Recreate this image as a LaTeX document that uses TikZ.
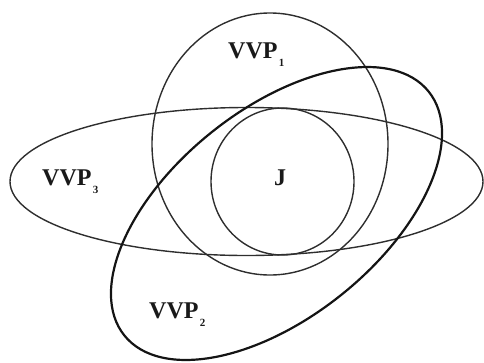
\documentclass[tikz,border=0pt]{standalone}
\usepackage{fontspec}
\setmainfont{Liberation Serif}
\begin{document}
\begin{tikzpicture}[x=1pt,y=-1pt,
  thinline/.style={draw=black!82, line width=1.4pt},
  thickline/.style={draw=black!92, line width=2.2pt},
  lab/.style={font=\fontsize{24}{24}\selectfont\bfseries, text=black!90, inner sep=0pt, anchor=base west},
  sub/.style={font=\fontsize{11}{11}\selectfont\bfseries, text=black!90, inner sep=0pt, anchor=base west}]
\useasboundingbox (0,0) rectangle (484,362);
% VVP1
\draw[thinline] (270,144) ellipse [x radius=118pt, y radius=131pt];
% J
\draw[thinline] (282.5,181.5) ellipse [x radius=71.5pt, y radius=73.5pt];
% VVP3
\draw[thinline] (246.5,181.5) ellipse [x radius=236.5pt, y radius=74pt];
% VVP2
\draw[thickline] (276.5,213.5) ellipse [x radius=195pt, y radius=104pt, rotate=38.7];
% labels
\node[lab] (l1) at (228,58) {VVP};
\node[sub] (s1) at ([xshift=1pt,yshift=-8.5pt]l1.base east) {1};
\node[lab] (l3) at (42,185) {VVP};
\node[sub] (s3) at ([xshift=1pt,yshift=-8.5pt]l3.base east) {3};
\node[lab] (l2) at (149,318) {VVP};
\node[sub] (s2) at ([xshift=1pt,yshift=-8.5pt]l2.base east) {2};
\node[lab, anchor=base] (j) at (280,185) {J};
\end{tikzpicture}
\end{document}
